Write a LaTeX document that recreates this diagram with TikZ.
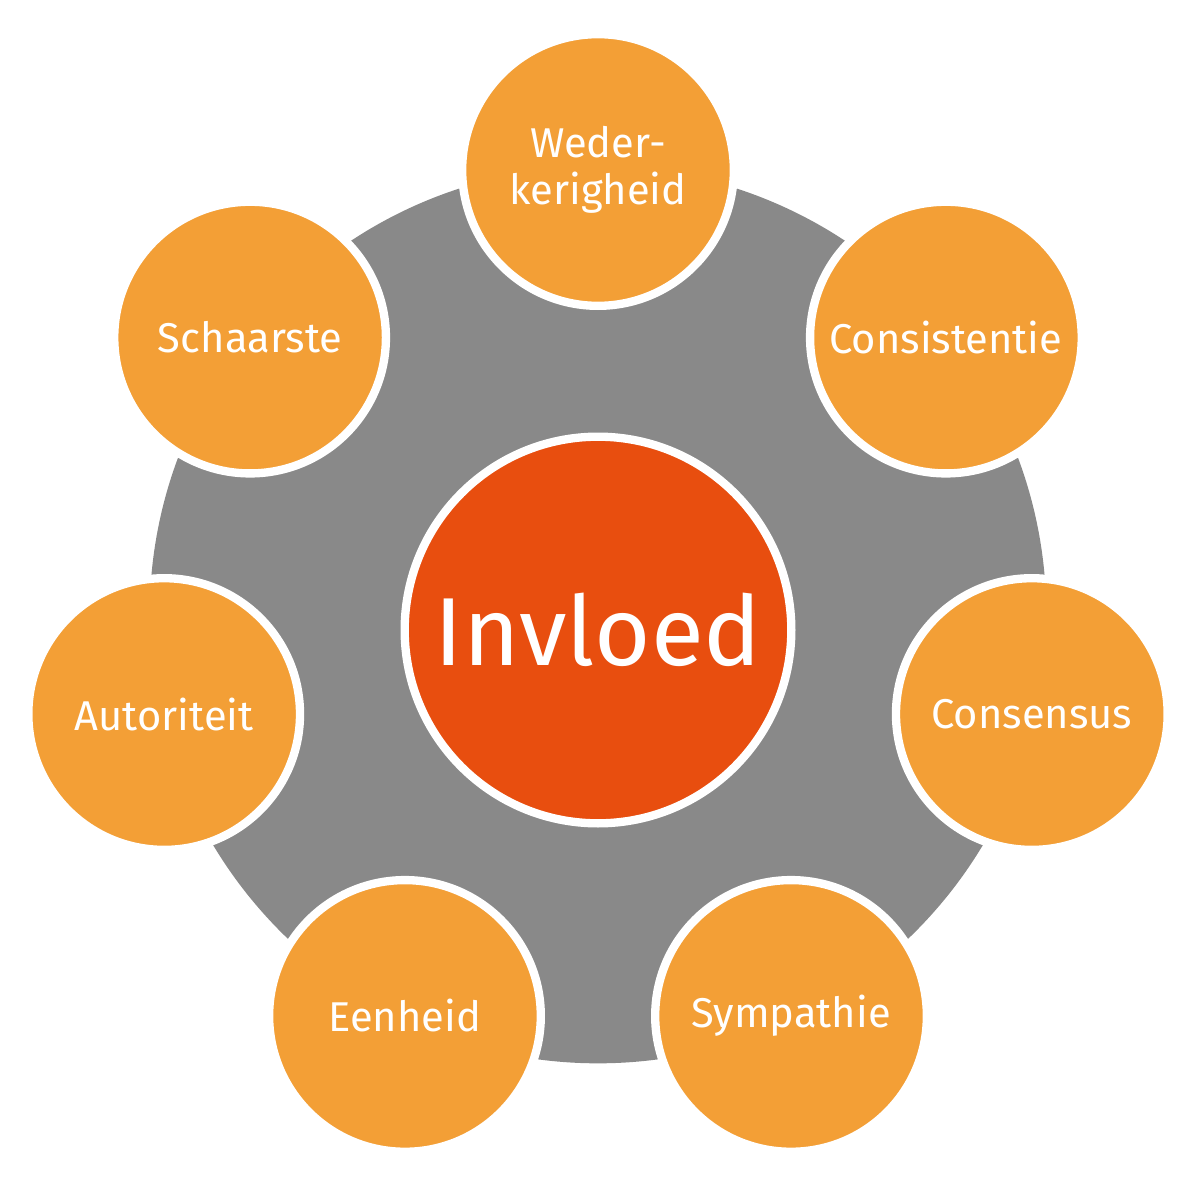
\documentclass[tikz,border=0pt]{standalone}
\usepackage{fontspec}
\setmainfont{Fira Sans}
\definecolor{orng}{HTML}{F39F36}
\definecolor{dorng}{HTML}{E84E0F}
\definecolor{gry}{HTML}{898989}
\begin{document}
\begin{tikzpicture}[x=0.6pt,y=-0.6pt,
  small/.style={circle,fill=orng,draw=white,line width=5pt,minimum size=163pt,inner sep=0pt,text=white,font=\fontsize{25}{28}\selectfont,align=center}]
\useasboundingbox (0,0) rectangle (1200,1190);
\node[circle,fill=gry,minimum size=538pt,inner sep=0pt] (ring) at (598,615) {};
\node[circle,fill=dorng,draw=white,line width=5pt,minimum size=232pt,inner sep=0pt,text=white,font=\fontsize{58}{60}\selectfont] (c) at (598,630) {Invloed};
\foreach \n/\a/\t in {w/90/{Weder-\\kerigheid},c1/38.57/Consistentie,c2/-12.86/Consensus,s/-64.29/Sympathie,e/-115.71/Eenheid,a/-167.14/Autoriteit,sc/-218.57/Schaarste}{
  \node[small] (\n) at ({598+445*cos(\a)},{615-445*sin(\a)}) {\t};
}
\end{tikzpicture}
\end{document}
